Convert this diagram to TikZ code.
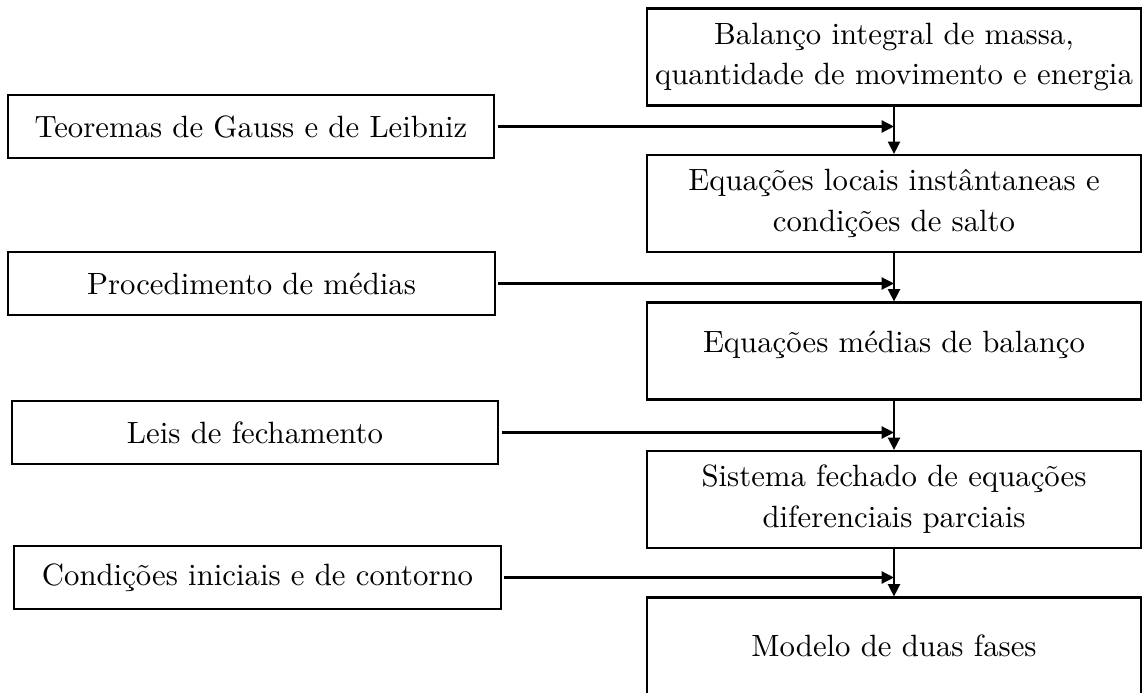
\documentclass[tikz,border=0pt]{standalone}
\usepackage{tikz}
\usetikzlibrary{arrows.meta, calc, positioning}
\tikzset{>={Triangle[length=4pt,width=3.9pt]}}
\tikzset{
	etapa/.style={draw, line width=0.7pt, minimum width=160.5pt, minimum height=31.5pt, inner sep=0pt, align=center, font=\fontsize{10}{13.3}\selectfont},
	insumo/.style={draw, line width=0.7pt, minimum width=158pt, minimum height=20.5pt, inner sep=0pt, align=center},
	fluxo/.style={line width=0.7pt, ->}
}

\begin{document}
\begin{tikzpicture}[x=0.325pt, y=-0.325pt]
	\useasboundingbox (0,0) rectangle (1147,693);
	% coluna da direita
	\node[etapa] (balanco) at (894,57) {Balanço integral de massa,\\quantidade de movimento e energia};
	\node[etapa] (locais) at (894,203.5) {Equações locais instântaneas e\\condições de salto};
	\node[etapa] (medias) at (894,351) {Equações médias de balanço\\[-7.3pt]\mbox{}};
	\node[etapa] (sistema) at (894,499.5) {Sistema fechado de equações\\diferenciais parciais};
	\node[etapa] (modelo) at (894,646) {Modelo de duas fases};
	% coluna da esquerda
	\node[insumo] (teoremas) at (251,126.5) {Teoremas de Gauss e de Leibniz};
	\node[insumo] (procedimento) at (251.5,283.5) {Procedimento de médias};
	\node[insumo] (leis) at (255,432.5) {Leis de fechamento};
	\node[insumo] (condicoes) at (257.5,577.5) {Condições iniciais e de contorno};
	% setas
	\draw[fluxo] (balanco) -- (locais);
	\draw[fluxo] (locais) -- (medias);
	\draw[fluxo] (medias) -- (sistema);
	\draw[fluxo] (sistema) -- (modelo);
	\draw[fluxo] ([xshift=0.8pt]teoremas.east) -- (teoremas.east -| balanco.south);
	\draw[fluxo] ([xshift=0.8pt]procedimento.east) -- (procedimento.east -| locais.south);
	\draw[fluxo] ([xshift=0.8pt]leis.east) -- (leis.east -| medias.south);
	\draw[fluxo] ([xshift=0.8pt]condicoes.east) -- (condicoes.east -| sistema.south);
\end{tikzpicture}
\end{document}
